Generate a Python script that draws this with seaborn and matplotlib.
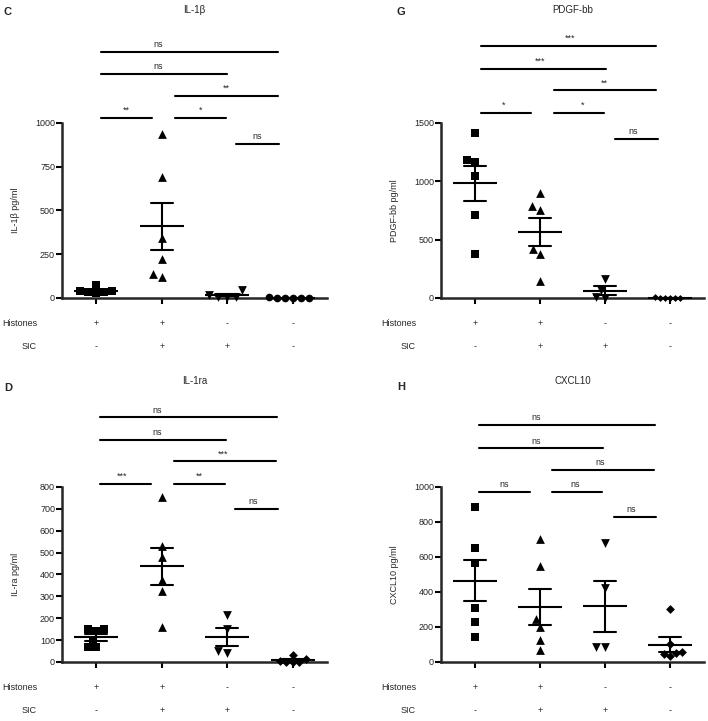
import seaborn as sns
import matplotlib.pyplot as plt
import pandas as pd

groups = ["Hist", "Hist+SIC", "SIC", "Ctrl"]
histones_row = ["+", "+", "-", "-"]
sic_row = ["-", "+", "+", "-"]

# values per group
il1b = [[40, 33, 72, 26, 36, 40],
        [937, 693, 345, 221, 122, 137],
        [18, 8, 6, 7, 46],
        [2, 1, 0, 1, 2, 3]]
pdgf = [[1414, 1185, 1165, 1042, 708, 380],
        [900, 751, 791, 422, 377, 148],
        [165, 70, 5, 3],
        [3, 2, 1, 0, 4, 6]]
il1ra = [[149, 151, 142, 100, 67, 70],
         [755, 532, 479, 376, 323, 158],
         [217, 149, 42, 51],
         [12, 2, 1, 3, 2, 30]]
cxcl10 = [[887, 650, 568, 307, 230, 143],
          [701, 549, 244, 200, 124, 69],
          [678, 421, 86, 86],
          [305, 105, 53, 34, 44, 57]]

# significance brackets: (x0, x1, height, label, label_x)
sig_il1b = [(0.08, 2.78, 1406, "ns", 0.95), (0.08, 2.0, 1280, "ns", 0.95),
            (1.2, 2.78, 1154, "**", 1.99), (0.08, 0.85, 1029, "**", 0.46),
            (1.2, 1.98, 1029, "*", 1.59), (2.14, 2.79, 880, "ns", 2.45)]
sig_pdgf = [(0.1, 2.78, 2162, "***", 1.46), (0.1, 2.01, 1965, "***", 1.0),
            (1.22, 2.78, 1782, "**", 1.99), (0.1, 0.87, 1588, "*", 0.44),
            (1.22, 1.99, 1588, "*", 1.65), (2.16, 2.82, 1365, "ns", 2.43)]
sig_il1ra = [(0.06, 2.76, 1118, "ns", 0.93), (0.06, 1.98, 1014, "ns", 0.93),
             (1.18, 2.75, 917, "***", 1.93), (0.06, 0.83, 815, "***", 0.4),
             (1.18, 1.96, 815, "**", 1.57), (2.12, 2.78, 699, "ns", 2.39)]
sig_cxcl10 = [(0.07, 2.76, 1353, "ns", 0.94), (0.07, 1.97, 1221, "ns", 0.94),
              (1.19, 2.75, 1099, "ns", 1.93), (0.07, 0.84, 970, "ns", 0.45),
              (1.19, 1.96, 970, "ns", 1.54), (2.13, 2.79, 827, "ns", 2.4)]

panels = [
    dict(letter="C", title="IL-1β", ylabel="IL-1β pg/ml", data=il1b, top=1000,
         ticks=[0, 250, 500, 750, 1000], markers=["s", "^", "v", "o"], sig=sig_il1b),
    dict(letter="G", title="PDGF-bb", ylabel="PDGF-bb pg/ml", data=pdgf, top=1500,
         ticks=[0, 500, 1000, 1500], markers=["s", "^", "v", "D"], sig=sig_pdgf),
    dict(letter="D", title="IL-1ra", ylabel="IL-ra pg/ml", data=il1ra, top=800,
         ticks=list(range(0, 801, 100)), markers=["s", "^", "v", "D"], sig=sig_il1ra),
    dict(letter="H", title="CXCL10", ylabel="CXCL10 pg/ml", data=cxcl10, top=1000,
         ticks=list(range(0, 1001, 200)), markers=["s", "^", "v", "D"], sig=sig_cxcl10),
]

sns.set_style("ticks")
plt.rcParams['font.family'] = ['Liberation Sans', 'DejaVu Sans']

W, H = 708, 721
fig = plt.figure(figsize=(W / 100, H / 100), dpi=100)

# axes boxes in pixels: left, top, right, bottom
boxes = [(62, 40, 327, 305), (441, 40, 704, 305), (62, 404, 327, 669), (441, 404, 704, 669)]
letter_pos = [(8, 12), (401, 12), (8, 388), (401, 387)]
title_y = [10, 10, 381, 381]
marker_size = {"s": 5.5, "^": 6.3, "v": 6.3, "o": 5.5, "D": 4.5}

for p, box, lp, ty in zip(panels, boxes, letter_pos, title_y):
    l, t, r, b = box
    ax = fig.add_axes([l / W, 1 - b / H, (r - l) / W, (b - t) / H])

    df = pd.DataFrame({
        "group": [g for g, vals in zip(groups, p["data"]) for _ in vals],
        "value": [v for vals in p["data"] for v in vals],
    })

    for g, m in zip(groups, p["markers"]):
        sub = df[df["group"] == g]
        size = marker_size[m]
        if m == "D" and p["letter"] == "G":
            size = 3.5  # tiny diamonds in the PDGF panel
        sns.swarmplot(data=sub, x="group", y="value", order=groups, marker=m,
                      color="black", size=size, linewidth=0, ax=ax, zorder=3,
                      clip_on=False)

    # mean +/- SEM
    sns.pointplot(data=df, x="group", y="value", order=groups, errorbar="se",
                  capsize=0.33, linestyle="none", marker="_", markersize=32,
                  markeredgewidth=1.5, color="black", err_kws={"linewidth": 1.5},
                  ax=ax, zorder=4)

    T = p["top"]
    ax.set_ylim(-0.04 * T, 1.474 * T)
    ax.set_xlim(-0.52, 3.52)
    ax.set_yticks(p["ticks"])
    ax.set_yticklabels([str(v) for v in p["ticks"]], fontsize=6.5)
    ax.set_xticks(range(4))
    ax.set_xticklabels([])
    ax.tick_params(axis="both", length=4, width=1.5, pad=1, color="black")
    ax.set_xlabel("")
    ax.set_ylabel(p["ylabel"], fontsize=6.5)
    ax.yaxis.set_label_coords(-42 / (r - l), (0.5 + 0.04) / (1.474 + 0.04))

    for side in ["top", "right"]:
        ax.spines[side].set_visible(False)
    ax.spines["left"].set_bounds(0, T)
    ax.spines["bottom"].set_position(("data", 0))
    for side in ["left", "bottom"]:
        ax.spines[side].set_linewidth(1.8)

    for x0, x1, h, lab, lx in p["sig"]:
        ax.plot([x0, x1], [h, h], color="black", lw=1.5, clip_on=False)
        ax.annotate(lab, (lx, h), xytext=(0, 2), textcoords="offset points",
                    ha="center", va="bottom", fontsize=6.5)

    # +/- table under the axis
    for row, (name, signs) in enumerate([("Histones", histones_row), ("SIC", sic_row)]):
        dy = -26 - 22.5 * row
        ax.annotate(name, (0, 0), xycoords=("axes fraction", "data"),
                    xytext=(-18, dy * 0.72), textcoords="offset points",
                    ha="right", va="center", fontsize=6.5, annotation_clip=False)
        for i, s in enumerate(signs):
            ax.annotate(s, (i, 0), xytext=(0, dy * 0.72), textcoords="offset points",
                        ha="center", va="center", fontsize=6.5, annotation_clip=False)

    fig.text((l + r) / 2 / W, 1 - ty / H, p["title"], ha="center", va="center", fontsize=7)
    fig.text(lp[0] / W, 1 - lp[1] / H, p["letter"], ha="center", va="center",
             fontsize=8, fontweight="bold")

fig.savefig("out.png", dpi=100)
